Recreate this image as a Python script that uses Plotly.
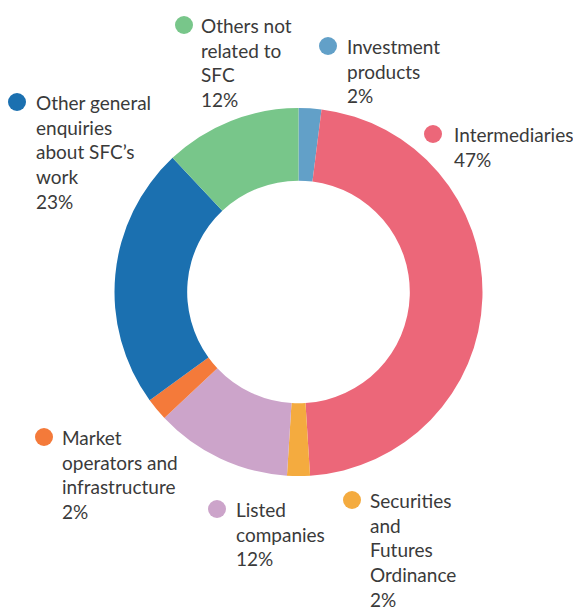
import plotly.graph_objects as go

# ── DATA ──
labels = [
    "Investment products",
    "Intermediaries",
    "Securities and Futures Ordinance",
    "Listed companies",
    "Market operators and infrastructure",
    "Other general enquiries about SFC's work",
    "Others not related to SFC",
]
values = [2, 47, 2, 12, 2, 23, 12]
colors = ["#62a0c8", "#ec6779", "#f4ab3f", "#cca4ca", "#f47a3a", "#1b70b0", "#78c68a"]

# label text as it is wrapped in the picture (\u200c stops the "ti" ligature)
label_lines = [
    ["Investment", "products"],
    ["Intermediaries"],
    ["Securi\u200cties", "and", "Futures", "Ordinance"],
    ["Listed", "companies"],
    ["Market", "operators and", "infrastructure"],
    ["Other general", "enquiries", "about SFC\u2019s", "work"],
    ["Others not", "related to", "SFC"],
]

# ── LAYOUT ──
# page body has an 8px margin, so the figure is drawn 8px in from the corner
OFF = 8
W, H = 581 - OFF, 610 - OFF
# (dot centre x, dot centre y, text left x) in window pixels
label_pos = [
    (328, 46, 348),
    (433, 134, 455),
    (352, 500, 371),
    (217, 509, 237),
    (44, 437, 63),
    (17, 102, 37),
    (184, 25, 202),
]

cx, cy, r = 298.5 - OFF, 292 - OFF, 184

fig = go.Figure(
    go.Pie(
        labels=labels,
        values=values,
        sort=False,
        direction="clockwise",
        rotation=0,
        hole=0.605,
        textinfo="none",
        hoverinfo="label+percent",
        marker=dict(colors=colors, line=dict(width=0)),
        domain=dict(
            x=[(cx - r) / W, (cx + r) / W],
            y=[(H - cy - r) / H, (H - cy + r) / H],
        ),
    )
)

shapes = []
annotations = []
for lines, v, c, (dx, dy, tx) in zip(label_lines, values, colors, label_pos):
    dx, dy, tx = dx - OFF, dy - OFF, tx - OFF - 3
    shapes.append(dict(
        type="circle", xref="paper", yref="paper",
        x0=(dx - 9) / W, x1=(dx + 9) / W,
        y0=(H - dy - 9) / H, y1=(H - dy + 9) / H,
        fillcolor=c, line=dict(width=0),
    ))
    annotations.append(dict(
        xref="paper", yref="paper",
        x=tx / W, y=(H - dy + 13) / H,
        xanchor="left", yanchor="top", align="left",
        text="<br>".join(lines + [f"{v}%"]),
        showarrow=False,
        font=dict(family="Lato", size=19, color="#3a3a3a"),
    ))

fig.update_layout(
    width=W, height=H,
    margin=dict(l=0, r=0, t=0, b=0),
    showlegend=False,
    paper_bgcolor="white",
    shapes=shapes,
    annotations=annotations,
)

fig.write_html("out.html")
